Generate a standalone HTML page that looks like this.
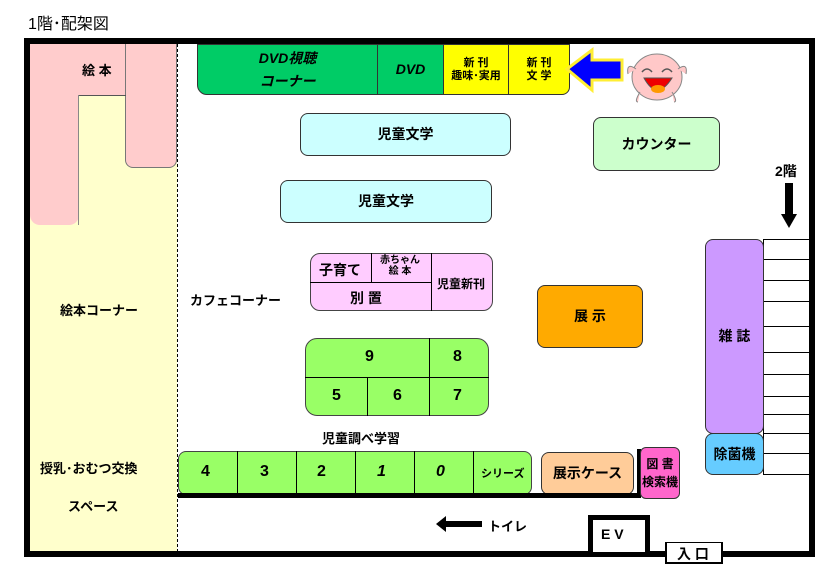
<!DOCTYPE html>
<html><head><meta charset="utf-8"><style>
*{margin:0;padding:0;box-sizing:border-box}
body{width:838px;height:579px;background:#fff;position:relative;overflow:hidden;font-family:"Liberation Sans","Noto Sans CJK JP",sans-serif;}
.a{position:absolute}
.b{position:absolute;border:1px solid #333;display:flex;align-items:center;justify-content:center;font-weight:bold;font-size:14px;color:#000;text-align:center;line-height:1.15}
.t{position:absolute;font-weight:bold;font-size:13px;white-space:nowrap}
</style></head><body>
<div class="t" style="left:28px;top:10px;font-weight:normal;font-size:16px">1階･配架図</div>
<!-- left areas -->
<div class="a" style="left:30px;top:44px;width:147px;height:508px;background:#ffffcc"></div>
<div class="a" style="left:30px;top:44px;width:147px;height:51px;background:#ffcccc"></div>
<div class="a" style="left:30px;top:44px;width:49px;height:181px;background:#ffcccc;border-radius:0 0 10px 10px"></div>
<div class="a" style="left:125px;top:44px;width:52px;height:124px;background:#ffcccc;border:1px solid #777;border-top:none;border-radius:0 0 8px 8px"></div>
<div class="a" style="left:79px;top:95px;width:47px;height:1px;background:#555"></div>
<div class="a" style="left:78px;top:95px;width:1px;height:130px;background:#888"></div>
<div class="a" style="left:177px;top:44px;width:0;height:508px;border-left:1px dashed #000"></div>
<div class="t" style="left:82px;top:60px">絵 本</div>
<div class="t" style="left:60px;top:300px">絵本コーナー</div>
<div class="t" style="left:40px;top:458px">授乳･おむつ交換</div>
<div class="t" style="left:68px;top:496px">スペース</div>
<!-- outer wall -->
<div class="a" style="left:24px;top:38px;width:791px;height:519px;border:6px solid #000;border-bottom:none"></div>
<div class="a" style="left:24px;top:551px;width:570px;height:6px;background:#000"></div>
<div class="a" style="left:644px;top:551px;width:26px;height:6px;background:#000"></div>
<div class="a" style="left:718px;top:551px;width:97px;height:6px;background:#000"></div>
<!-- top row -->
<div class="b" style="left:197px;top:44px;width:181px;height:51px;background:#00cc66;border-radius:0 0 0 10px;font-style:italic;line-height:1.6">DVD視聴<br>コーナー</div>
<div class="b" style="left:377px;top:44px;width:67px;height:51px;background:#00cc66;font-style:italic">DVD</div>
<div class="b" style="left:443px;top:44px;width:66px;height:51px;background:#ffff00;font-size:11px">新 刊<br>趣味･実用</div>
<div class="b" style="left:508px;top:44px;width:62px;height:51px;background:#ffff00;font-size:11px;border-radius:0 0 8px 0">新 刊<br>文 学</div>
<svg class="a" style="left:560px;top:44px" width="140" height="62">
<polygon points="7,25 32,6 32,16 62,16 62,36 32,36 32,46" fill="#0000ff" stroke="#ffee33" stroke-width="3"/>
<ellipse cx="97" cy="33" rx="25" ry="23" fill="#ffc8c8" stroke="#888"/>
<path d="M76,25 Q66,18 68,30 M118,25 Q128,18 126,30 M80,48 Q74,58 78,58 M112,48 Q118,58 114,58" stroke="#888" fill="#ffc8c8"/>
<path d="M82,28 q5,-6 10,0 M102,28 q5,-6 10,0" stroke="#555" fill="none" stroke-width="1.5"/>
<path d="M84,34 Q97,58 112,34 Z" fill="#e00" stroke="#555"/>
<ellipse cx="98" cy="45" rx="7" ry="4" fill="#f90"/>
</svg>
<!-- middle -->
<div class="b" style="left:300px;top:113px;width:211px;height:43px;background:#ccffff;border-radius:8px">児童文学</div>
<div class="b" style="left:280px;top:180px;width:212px;height:43px;background:#ccffff;border-radius:8px">児童文学</div>
<div class="b" style="left:593px;top:117px;width:127px;height:54px;background:#ccffcc;border-radius:8px">カウンター</div>
<div class="t" style="left:775px;top:161px;font-size:14px">2階</div>
<div class="a" style="left:785px;top:183px;width:8px;height:32px;background:#000"></div>
<div class="a" style="left:781px;top:214px;width:0;height:0;border-left:8px solid transparent;border-right:8px solid transparent;border-top:14px solid #000"></div>
<!-- pink block -->
<div class="a" style="left:310px;top:253px;width:183px;height:58px;background:#ffccff;border:1px solid #444;border-radius:10px"></div>
<div class="a" style="left:310px;top:282px;width:122px;height:1px;background:#000"></div>
<div class="a" style="left:371px;top:253px;width:1px;height:29px;background:#000"></div>
<div class="a" style="left:431px;top:253px;width:1px;height:58px;background:#000"></div>
<div class="t" style="left:319px;top:260px;font-size:14px">子育て</div>
<div class="t" style="left:380px;top:255px;font-size:10px;line-height:11px;text-align:center">赤ちゃん<br>絵 本</div>
<div class="t" style="left:350px;top:288px;font-size:14px">別 置</div>
<div class="t" style="left:437px;top:275px;font-size:12px">児童新刊</div>
<div class="t" style="left:190px;top:290px">カフェコーナー</div>
<!-- green 5-9 -->
<div class="a" style="left:305px;top:338px;width:184px;height:78px;background:#99ff66;border:1px solid #444;border-radius:12px"></div>
<div class="a" style="left:305px;top:377px;width:184px;height:1px;background:#000"></div>
<div class="a" style="left:429px;top:338px;width:1px;height:78px;background:#000"></div>
<div class="a" style="left:367px;top:377px;width:1px;height:39px;background:#000"></div>
<div class="t" style="left:365px;top:348px;font-size:16px">9</div>
<div class="t" style="left:453px;top:348px;font-size:16px">8</div>
<div class="t" style="left:332px;top:387px;font-size:16px">5</div>
<div class="t" style="left:393px;top:387px;font-size:16px">6</div>
<div class="t" style="left:453px;top:387px;font-size:16px">7</div>
<div class="t" style="left:322px;top:428px">児童調べ学習</div>
<div class="b" style="left:537px;top:285px;width:106px;height:63px;background:#ffaa00;border-radius:8px">展 示</div>
<!-- bottom shelf -->
<div class="a" style="left:178px;top:451px;width:354px;height:44px;background:#99ff66;border:1px solid #444;border-radius:8px"></div>
<div class="a" style="left:237px;top:451px;width:1px;height:44px;background:#000"></div>
<div class="a" style="left:296px;top:451px;width:1px;height:44px;background:#000"></div>
<div class="a" style="left:355px;top:451px;width:1px;height:44px;background:#000"></div>
<div class="a" style="left:414px;top:451px;width:1px;height:44px;background:#000"></div>
<div class="a" style="left:473px;top:451px;width:1px;height:44px;background:#000"></div>
<div class="t" style="left:201px;top:463px;font-size:16px">4</div>
<div class="t" style="left:260px;top:463px;font-size:16px">3</div>
<div class="t" style="left:317px;top:463px;font-size:16px">2</div>
<div class="t" style="left:377px;top:463px;font-size:16px;font-style:italic">1</div>
<div class="t" style="left:436px;top:463px;font-size:16px;font-style:italic">0</div>
<div class="t" style="left:481px;top:465px;font-size:11px">シリーズ</div>
<div class="b" style="left:541px;top:452px;width:93px;height:43px;background:#ffcc99;border-radius:8px">展示ケース</div>
<div class="a" style="left:178px;top:493px;width:463px;height:5px;background:#000"></div>
<div class="a" style="left:637px;top:449px;width:4px;height:49px;background:#000"></div>
<div class="b" style="left:640px;top:447px;width:40px;height:52px;background:#ff66cc;border-radius:6px;font-size:12px;line-height:1.5">図 書<br>検索機</div>
<!-- right -->
<div class="a" style="left:763px;top:239px;width:46px;height:236px;border-left:1px solid #000"></div>
<div class="a" style="left:763px;top:239px;width:46px;height:1px;background:#000"></div>
<div class="a" style="left:763px;top:259px;width:46px;height:1px;background:#000"></div>
<div class="a" style="left:763px;top:280px;width:46px;height:1px;background:#000"></div>
<div class="a" style="left:763px;top:301px;width:46px;height:1px;background:#000"></div>
<div class="a" style="left:763px;top:326px;width:46px;height:1px;background:#000"></div>
<div class="a" style="left:763px;top:352px;width:46px;height:1px;background:#000"></div>
<div class="a" style="left:763px;top:374px;width:46px;height:1px;background:#000"></div>
<div class="a" style="left:763px;top:396px;width:46px;height:1px;background:#000"></div>
<div class="a" style="left:763px;top:414px;width:46px;height:1px;background:#000"></div>
<div class="a" style="left:763px;top:433px;width:46px;height:1px;background:#000"></div>
<div class="a" style="left:763px;top:453px;width:46px;height:1px;background:#000"></div>
<div class="a" style="left:763px;top:474px;width:46px;height:1px;background:#000"></div>
<div class="b" style="left:705px;top:239px;width:59px;height:195px;background:#cc99ff;border-radius:8px">雑 誌</div>
<div class="b" style="left:705px;top:433px;width:59px;height:42px;background:#66ccff;border-radius:8px">除菌機</div>
<!-- bottom -->
<svg class="a" style="left:434px;top:514px" width="50" height="20"><polygon points="2,10 12,2 12,7 48,7 48,13 12,13 12,18" fill="#000"/></svg>
<div class="t" style="left:488px;top:516px">トイレ</div>
<div class="a" style="left:588px;top:515px;width:62px;height:42px;border:5px solid #000;background:#fff"></div>
<div class="t" style="left:601px;top:526px;font-size:14px">E V</div>
<div class="a" style="left:665px;top:542px;width:58px;height:22px;border:2px solid #000;border-top-width:1px;background:#fff"></div>
<div class="t" style="left:677px;top:544px;font-size:14px">入 口</div>
</body></html>
